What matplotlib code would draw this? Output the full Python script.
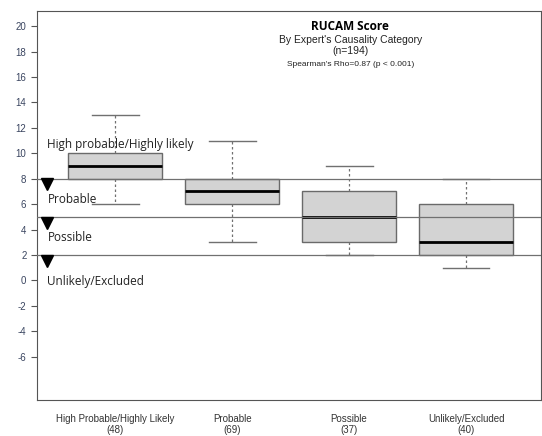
import matplotlib
matplotlib.use("Agg")
import matplotlib.pyplot as plt

plt.rcParams["axes.unicode_minus"] = False

# box statistics
categories = ["High Probable/Highly Likely", "Probable", "Possible", "Unlikely/Excluded"]
counts = [48, 69, 37, 40]
whisk_lo = [6, 3, 2, 1]
q1 = [8, 6, 3, 2]
median = [9, 7, 5, 3]
q3 = [10, 8, 7, 6]
whisk_hi = [13, 11, 9, 8]

# RUCAM cut-offs and zone labels
cutoffs = [8, 5, 2]
zone_labels = ["High probable/Highly likely", "Probable", "Possible", "Unlikely/Excluded"]
zone_label_y = [10.7, 6.4, 3.4, -0.1]

fig = plt.figure(figsize=(5.42, 4.36), dpi=100)
ax = fig.add_axes([0.068, 0.083, 0.93, 0.892])

stats = []
for i, c in enumerate(categories):
    stats.append(dict(label=c, whislo=whisk_lo[i], q1=q1[i], med=median[i],
                      q3=q3[i], whishi=whisk_hi[i], fliers=[]))

pos = list(range(1, len(categories) + 1))
ax.bxp(stats, positions=pos, widths=0.8, patch_artist=True, showfliers=False,
       boxprops=dict(facecolor="#d3d3d3", edgecolor="#6a6a6a", linewidth=1.0),
       medianprops=dict(color="black", linewidth=2.0),
       whiskerprops=dict(color="#707070", linestyle=(0, (2, 2)), linewidth=0.9),
       capprops=dict(color="#707070", linewidth=1.0), capwidths=0.4)

for c in cutoffs:
    ax.axhline(c, color="#707070", linewidth=0.9, zorder=3)
    ax.plot(0.42, c - 0.45, marker="v", color="black", markersize=9, zorder=4)

for lab, y in zip(zone_labels, zone_label_y):
    ax.text(0.42, y, lab, fontsize=8.5, family="Open Sans", color="#222222", va="center", ha="left")

ax.set_xlim(0.33, 4.64)
ax.set_ylim(-9.4, 21.2)
ax.set_yticks(range(-6, 21, 2))
ax.tick_params(axis="y", labelsize=7, colors="#555555", labelcolor="#3a4560", length=4)
for t in ax.get_yticklabels():
    t.set_family("Liberation Sans")
ax.set_xticks(pos)
ax.set_xticklabels([f"{c}\n({n})" for c, n in zip(categories, counts)], fontsize=7,
                   color="#333333", linespacing=1.1, family="Liberation Sans")
ax.tick_params(axis="x", length=0, pad=10)
for s in ax.spines.values():
    s.set_color("#555555")

tx = 3.01
ax.text(tx, 20.0, "RUCAM Score", fontsize=8.5, fontweight="bold", family="Open Sans", ha="center", va="center")
ax.text(tx, 18.9, "By Expert's Causality Category", fontsize=7.5, family="Liberation Sans",
        ha="center", va="center", color="#222222")
ax.text(tx, 18.05, "(n=194)", fontsize=7.5, family="Liberation Sans", ha="center", va="center", color="#222222")
ax.text(tx, 16.95, "Spearman's Rho=0.87 (p < 0.001)", fontsize=6, family="Liberation Sans",
        ha="center", va="center", color="#222222")

fig.savefig("out.png", dpi=100)
